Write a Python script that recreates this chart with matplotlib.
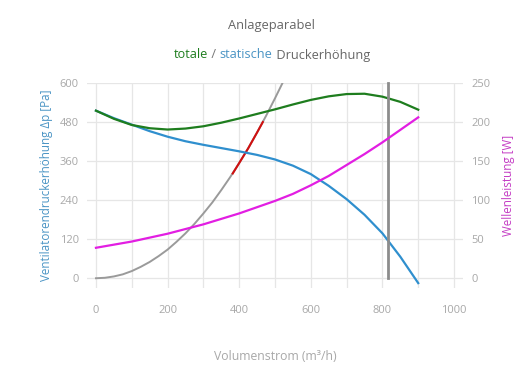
import matplotlib
matplotlib.use("Agg")
import matplotlib.pyplot as plt
from matplotlib.ticker import MultipleLocator

plt.rcParams['font.family'] = ['Open Sans', 'DejaVu Sans']

# ---- data ----
flow = [0, 50, 100, 150, 200, 250, 300, 350, 400, 450, 500, 550, 600, 650, 700, 750, 800, 850, 900]
static_p = [515, 492, 472, 452, 435, 421, 410, 400, 390, 379, 365, 346, 320, 284, 243, 195, 138, 66, -15]
total_p = [515, 490, 471, 461, 457, 460, 467, 478, 491, 505, 519, 534, 548, 559, 566, 567, 558, 542, 518]
power_w = [39, 43, 47, 52, 57, 63, 69, 76, 83, 91, 99, 108, 119, 131, 145, 159, 174, 190, 206]

sys_flow = [0, 25, 50, 75, 100, 125, 150, 175, 200, 225, 250, 275, 300, 325, 350, 375, 400, 425, 450, 475, 500, 525]
sys_p = [0, 1.4, 5.5, 12, 22, 35, 50, 68, 88, 112, 138, 167, 199, 233, 271, 311, 354, 399, 448, 499, 553, 609]

op_flow = [382, 400, 425, 450, 466]
op_p = [322, 354, 399, 448, 480]

vline_flow = 816

xticks = [0, 200, 400, 600, 800, 1000]
yticks_left = [0, 120, 240, 360, 480, 600]
yticks_right = [0, 50, 100, 150, 200, 250]

# ---- colours ----
c_green = '#1e7d1e'
c_blue = '#2f8fce'
c_mag = '#e21ee2'
c_gray = '#9a9a9a'
c_red = '#d01010'
c_tick = '#a8a8a8'
c_grid = '#e6e6e6'

fig = plt.figure(figsize=(5.3, 3.9), dpi=100)
ax = fig.add_axes([87/530, 1-288/390, (463-87)/530, (288-83)/390])
ax2 = ax.twinx()

ax.set_xlim(-25, 1025)
ax.set_ylim(-30, 600)
ax2.set_ylim(-12.5, 250)

ax.set_xticks(xticks)
ax.xaxis.set_minor_locator(MultipleLocator(100))
ax.set_yticks(yticks_left)
ax2.set_yticks(yticks_right)

ax.grid(True, which='both', axis='x', color=c_grid, lw=0.9)
ax.grid(True, which='major', axis='y', color=c_grid, lw=0.9)
ax.set_axisbelow(True)
for a in (ax, ax2):
    for s in a.spines.values():
        s.set_visible(False)
    a.tick_params(which='both', length=0, colors=c_tick, labelsize=8)
ax.tick_params(axis='x', pad=12)
ax.tick_params(axis='y', pad=6)
ax2.tick_params(axis='y', pad=6)

ax.plot(sys_flow, sys_p, color=c_gray, lw=1.4, zorder=2, clip_on=True)
ax.plot(op_flow, op_p, color=c_red, lw=1.5, zorder=3)
ax.plot(flow, static_p, color=c_blue, lw=1.6, zorder=4)
ax.plot(flow, total_p, color=c_green, lw=1.6, zorder=4)
ax.plot([vline_flow, vline_flow], [0, 600], color='#8c8c8c', lw=2.0, zorder=5, clip_on=False)
ax2.plot(flow, power_w, color=c_mag, lw=1.6, zorder=4)

ax.set_ylabel('Ventilatorendruckerhöhung Δp [Pa]', color='#4a94c4', fontsize=8.4, labelpad=5)
ax2.set_ylabel('Wellenleistung [W]', color='#c43cc4', fontsize=8.4, labelpad=8)
ax.set_xlabel('Volumenstrom (m³/h)', color=c_tick, fontsize=8.8, labelpad=25)

fig.text(0.513, 1-25/390, 'Anlageparabel', ha='center', va='center', color='#666666', fontsize=9.3)

# subtitle with coloured words
parts = [('totale', c_green), (' / ', '#777777'), ('statische', '#4a94c4'), (' Druckerhöhung', '#666666')]
fig.canvas.draw()
r = fig.canvas.get_renderer()
texts = []
for s, c in parts:
    t = fig.text(0, 1-55/390, s, ha='left', va='center', color=c, fontsize=9.2)
    texts.append(t)
widths = [t.get_window_extent(r).width for t in texts]
total = sum(widths)
x = 272 - total/2
for t, w in zip(texts, widths):
    t.set_x(x/530)
    x += w

fig.savefig('out.png', dpi=100)
